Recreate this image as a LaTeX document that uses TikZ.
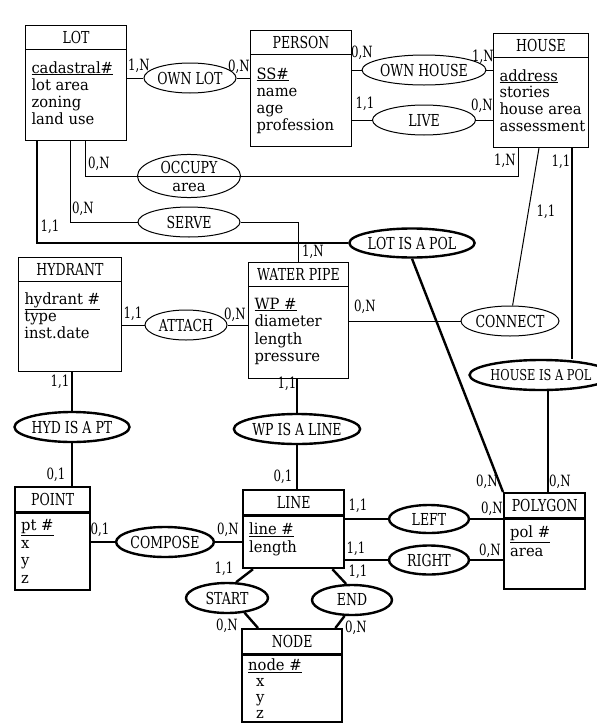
\documentclass[tikz,border=0pt]{standalone}
\usepackage{fontspec}
\setmainfont{DejaVu Serif}
\newfontfamily\capsfont[FakeStretch=0.76]{DejaVu Serif}
\newfontfamily\attrfont[FakeStretch=0.95]{DejaVu Serif}
\usetikzlibrary{shapes.geometric,shapes.multipart}

\newcommand{\titlefont}{\capsfont\fontsize{16.5}{18}\selectfont}
\newcommand{\cardfont}{\capsfont\fontsize{15.5}{17}\selectfont}
% header of an entity box: width, title
\newcommand{\etitle}[2]{\makebox[#1]{\rule[-4.5pt]{0pt}{21pt}#2}}
% attribute list: width, height, first baseline, line distance, lines
\newcommand{\attrs}[5]{\parbox[t][#2][t]{#1}{\attrfont\fontsize{15.5}{#4}\selectfont\rule{0pt}{#3}#5}}

\tikzset{
    %Define style for entity boxes
    entity/.style={
           rectangle split,
           rectangle split parts=2,
           draw=black, line width=1pt,
           inner xsep=6pt, inner ysep=1pt,
           anchor=north west,
           font=\titlefont},
    bentity/.style={entity, line width=2.4pt},
    %Define style for relationships
    rel/.style={
           ellipse,
           draw=black, line width=1pt,
           inner sep=0pt,
           font=\titlefont},
    brel/.style={rel, line width=2.4pt},
    % Define line styles
    link/.style={line width=1pt},
    blink/.style={line width=2.4pt},
    card/.style={font=\cardfont, inner sep=0pt}
}

\begin{document}
\begin{tikzpicture}[x=1pt,y=-1pt]
\useasboundingbox (0,0) rectangle (597,723);

% entities
\node[entity] (lot) at (25,25) {\etitle{89pt}{LOT}\nodepart{two}\attrs{89pt}{88pt}{22pt}{17pt}{\underline{cadastral\#}\\lot area\\zoning\\land use}};
\node[entity] (person) at (250,30) {\etitle{89pt}{PERSON}\nodepart{two}\attrs{89pt}{89pt}{23pt}{17pt}{\underline{SS\#}\\name\\age\\profession}};
\node[entity] (house) at (493,33) {\etitle{83pt}{HOUSE}\nodepart{two}\attrs{83pt}{87pt}{22pt}{16.7pt}{\underline{address}\\stories\\house area\\assessment}};
\node[entity] (hydrant) at (18,257) {\etitle{91pt}{HYDRANT}\nodepart{two}\attrs{91pt}{87pt}{21pt}{17pt}{\underline{hydrant \#}\\type\\inst.date}};
\node[entity] (wpipe) at (248,262) {\etitle{88pt}{WATER PIPE}\nodepart{two}\attrs{88pt}{89pt}{21pt}{17.5pt}{\underline{WP \#}\\diameter\\length\\pressure}};
\node[bentity] (point) at (14,486) {\etitle{63pt}{POINT}\nodepart{two}\attrs{63pt}{73pt}{16pt}{17.5pt}{\underline{pt \#}\\x\\y\\z}};
\node[bentity] (line) at (242,489) {\etitle{89pt}{LINE}\nodepart{two}\attrs{89pt}{48pt}{17pt}{18pt}{\underline{line \#}\\length}};
\node[bentity] (nodebox) at (241,628) {\etitle{88pt}{NODE}\nodepart{two}\attrs{88pt}{63pt}{14pt}{16pt}{\underline{node \#}\\\hspace*{8pt}x\\\hspace*{8pt}y\\\hspace*{8pt}z}};
\node[bentity] (polygon) at (503,492) {\etitle{69pt}{POLYGON}\nodepart{two}\attrs{69pt}{66pt}{17pt}{19pt}{\underline{pol \#}\\area}};

% relationships
\node[rel, minimum width=82pt, minimum height=30pt] (ownlot) at (190,78) {OWN LOT};
\node[rel, minimum width=104pt, minimum height=30pt] (ownhouse) at (424,70) {OWN HOUSE};
\node[rel, minimum width=103pt, minimum height=30pt] (live) at (424,120) {LIVE};
\node[rel, minimum width=103pt, minimum height=39pt, align=center] (occupy) at (189,176) {OCCUPY\\[0pt]{\attrfont\fontsize{15.5}{15.5}\selectfont area}};
\node[rel, minimum width=102pt, minimum height=30pt] (serve) at (189,222) {SERVE};
\node[brel, minimum width=119pt, minimum height=29pt] (lotpol) at (412,243) {LOT IS A POL};
\node[rel, minimum width=98pt, minimum height=30pt] (connect) at (510,321) {CONNECT};
\node[brel, minimum width=128pt, minimum height=30pt, font=\capsfont\fontsize{15}{17}\selectfont] (housepol) at (541,375) {HOUSE IS A POL};
\node[rel, minimum width=82pt, minimum height=30pt] (attach) at (186,325) {ATTACH};
\node[brel, minimum width=115pt, minimum height=30pt] (hydpt) at (72,427) {HYD IS A PT};
\node[brel, minimum width=116pt, minimum height=30pt] (wpline) at (297,429) {WP IS A LINE};
\node[brel, minimum width=87pt, minimum height=30pt] (compose) at (165,542) {COMPOSE};
\node[brel, minimum width=80pt, minimum height=28pt] (left) at (429,519) {LEFT};
\node[brel, minimum width=80pt, minimum height=29pt] (right) at (429,560) {RIGHT};
\node[brel, minimum width=82pt, minimum height=30pt] (start) at (227,598) {START};
\node[brel, minimum width=80pt, minimum height=30pt] (end) at (352,600) {END};

% thin connectors
\draw[link] (occupy.west) -- (occupy.east);
\path[link]
    (lot.east |- ownlot) edge (ownlot)
    (ownlot) edge (person.west |- ownlot)
    (person.east |- ownhouse) edge (ownhouse)
    (ownhouse) edge (house.west |- ownhouse)
    (person.east |- live) edge (live)
    (live) edge (house.west |- live)
    (wpipe.east |- connect) edge (connect)
    (hydrant.east |- attach) edge (attach)
    (attach) edge (wpipe.west |- attach)
    ([xshift=46pt]house.south west) edge (connect);
\draw[link] (occupy.west) -| ([xshift=60pt]lot.south west);
\draw[link] (occupy.east) -| ([xshift=25pt]house.south west);
\draw[link] (serve.west) -| ([xshift=45pt]lot.south west);
\draw[link] (serve.east) -| (wpipe.north);

% thick connectors
\draw[blink] (lotpol.west) -| ([xshift=12pt]lot.south west);
\path[blink]
    (lotpol.south) edge (polygon.north west)
    ([xshift=-17pt]house.south east) edge ([xshift=-17pt]house.south east |- housepol.north)
    ([xshift=45pt]polygon.north west |- housepol.south) edge ([xshift=45pt]polygon.north west)
    (hydpt |- hydrant.south) edge (hydpt)
    (hydpt) edge (hydpt.south |- point.north)
    (wpline |- wpipe.south) edge (wpline)
    (wpline) edge (wpline.south |- line.north)
    (point.east |- compose) edge (compose)
    (compose) edge (line.west |- compose)
    (line.east |- left) edge (left)
    (left) edge (polygon.west |- left)
    (line.east |- right) edge (right)
    (right) edge (polygon.west |- right)
    ([xshift=11pt]line.south west) edge (start.60)
    (start.-40) edge ([xshift=17pt]nodebox.north west)
    ([xshift=-13pt]line.south east) edge (end.110)
    (end.-115) edge ([xshift=-8pt]nodebox.north east);

% cardinalities
\node[card] (lot-ownlot) at (139,66) {1,N};
\node[card] (person-ownlot) at (239,67) {0,N};
\node[card] (person-ownhouse) at (362,53) {0,N};
\node[card] (house-ownhouse) at (483,57) {1,N};
\node[card] (person-live) at (365,104) {1,1};
\node[card] (house-live) at (482,106) {0,N};
\node[card] (lot-occupy) at (99,164) {0,N};
\node[card] (house-occupy) at (505,161) {1,N};
\node[card] (house-housepol) at (561,162) {1,1};
\node[card] (house-connect) at (546,212) {1,1};
\node[card] (lot-serve) at (83,209) {0,N};
\node[card] (lot-lotpol) at (50,227) {1,1};
\node[card] (wpipe-serve) at (313,252) {1,N};
\node[card] (wpipe-connect) at (365,307) {0,N};
\node[card] (hydrant-attach) at (133,314) {1,1};
\node[card] (wpipe-attach) at (235,315) {0,N};
\node[card] (hydrant-hydpt) at (60,382) {1,1};
\node[card] (wpipe-wpline) at (287,384) {1,1};
\node[card] (point-hydpt) at (56,475) {0,1};
\node[card] (line-wpline) at (283,477) {0,1};
\node[card] (point-compose) at (100,530) {0,1};
\node[card] (line-compose) at (228,530) {0,N};
\node[card] (line-start) at (224,569) {1,1};
\node[card] (nodebox-start) at (227,626) {0,N};
\node[card] (line-left) at (358,506) {1,1};
\node[card] (polygon-left) at (492,509) {0,N};
\node[card] (line-right) at (356,549) {1,1};
\node[card] (polygon-right) at (490,551) {0,N};
\node[card] (line-end) at (358,572) {1,1};
\node[card] (nodebox-end) at (356,628) {0,N};
\node[card] (polygon-lotpol) at (487,482) {0,N};
\node[card] (polygon-housepol) at (560,482) {0,N};
\end{tikzpicture}
\end{document}
